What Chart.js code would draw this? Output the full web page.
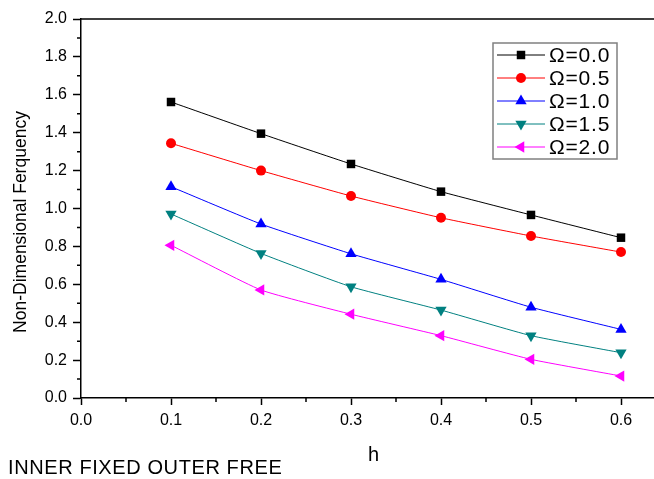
<!DOCTYPE html>
<html>
<head>
<meta charset="utf-8">
<script src="https://cdn.jsdelivr.net/npm/chart.js@4.4.1/dist/chart.umd.min.js"></script>
<style>
  html, body { margin: 0; padding: 0; background: #fff; overflow: hidden; }
  #wrap { position: absolute; left: 0; top: 0; width: 680px; height: 479px; }
</style>
</head>
<body>
<div id="wrap"><canvas id="myChart" width="680" height="479"></canvas></div>
<script>
const hValues = [0.1, 0.2, 0.3, 0.4, 0.5, 0.6];
const omegaLabels = ["Ω=0.0", "Ω=0.5", "Ω=1.0", "Ω=1.5", "Ω=2.0"];
const omega00 = [1.562, 1.395, 1.235, 1.089, 0.966, 0.846];
const omega05 = [1.344, 1.200, 1.066, 0.951, 0.855, 0.770];
const omega10 = [1.115, 0.918, 0.761, 0.626, 0.479, 0.362];
const omega15 = [0.971, 0.763, 0.587, 0.464, 0.329, 0.239];
const omega20 = [0.806, 0.570, 0.442, 0.329, 0.204, 0.116];

const FONT = "'Liberation Sans', Arial, sans-serif";

const toPoints = (ys) => ys.map((y, i) => ({ x: hValues[i], y: y }));

const seriesStyle = [
  { data: omega00, color: "#000000", pointStyle: "rect", radius: 6, rotation: 0 },
  { data: omega05, color: "#ff0000", pointStyle: "circle", radius: 5, rotation: 0 },
  { data: omega10, color: "#0000ff", pointStyle: "triangle", radius: 6.5, rotation: 0 },
  { data: omega15, color: "#008080", pointStyle: "triangle", radius: 6.5, rotation: 180 },
  { data: omega20, color: "#ff00ff", pointStyle: "triangle", radius: 6.5, rotation: 270 },
];

const datasets = seriesStyle.map((s, i) => ({
  label: omegaLabels[i],
  data: toPoints(s.data),
  borderColor: s.color,
  backgroundColor: s.color,
  borderWidth: 1,
  pointStyle: s.pointStyle,
  pointRadius: s.radius,
  pointRotation: s.rotation,
  pointBorderWidth: 0,
  tension: 0.15,
}));

// minor ticks, top frame line, legend box, y title and footer text
const extras = {
  id: "extras",
  afterDraw(chart) {
    const ctx = chart.ctx;
    const area = chart.chartArea;
    const xs = chart.scales.x;
    const ys = chart.scales.y;
    ctx.save();
    ctx.strokeStyle = "#000";
    ctx.lineWidth = 1.5;
    ctx.beginPath();
    ctx.moveTo(area.left, area.top);
    ctx.lineTo(area.right, area.top);
    for (let v = 0.1; v < 2; v += 0.2) {
      const py = ys.getPixelForValue(v);
      ctx.moveTo(area.left - 4, py);
      ctx.lineTo(area.left, py);
    }
    for (let v = 0.05; v < 0.66; v += 0.1) {
      const px = xs.getPixelForValue(v);
      ctx.moveTo(px, area.bottom);
      ctx.lineTo(px, area.bottom + 4);
    }
    ctx.stroke();

    // legend
    ctx.strokeStyle = "#808080";
    ctx.lineWidth = 1.5;
    ctx.strokeRect(493, 43, 124, 116);
    ctx.font = "21px " + FONT;
    ctx.textBaseline = "middle";
    ctx.textAlign = "left";
    chart.data.datasets.forEach((ds, i) => {
      const y = 55 + i * 23;
      ctx.strokeStyle = ds.borderColor;
      ctx.lineWidth = 1;
      ctx.beginPath();
      ctx.moveTo(497, y);
      ctx.lineTo(545, y);
      ctx.stroke();
      ctx.fillStyle = ds.backgroundColor;
      Chart.helpers.drawPoint(ctx, {
        pointStyle: ds.pointStyle,
        radius: ds.pointRadius,
        rotation: ds.pointRotation,
        borderWidth: 0,
      }, 521, y);
      ctx.fillStyle = "#000";
      ctx.letterSpacing = "0.8px";
      ctx.fillText(ds.label, 549, y + 1);
      ctx.letterSpacing = "0px";
    });

    // y title
    ctx.save();
    ctx.translate(21, 222);
    ctx.rotate(-Math.PI / 2);
    ctx.textAlign = "center";
    ctx.font = "17.5px " + FONT;
    ctx.fillText("Non-Dimensional Ferquency", 0, 0);
    ctx.restore();

    ctx.font = "20px " + FONT;
    ctx.textAlign = "left";
    ctx.letterSpacing = "0.6px";
    ctx.fillText("INNER FIXED OUTER FREE", 8, 468);
    ctx.letterSpacing = "0px";
    ctx.restore();
  },
};

new Chart("myChart", {
  type: "line",
  data: { datasets: datasets },
  plugins: [extras],
  options: {
    responsive: false,
    animation: false,
    devicePixelRatio: 1,
    layout: { padding: { left: 0, right: 14, top: 19, bottom: 0 } },
    plugins: {
      legend: { display: false },
      tooltip: { enabled: false },
    },
    scales: {
      x: {
        type: "linear",
        min: 0,
        max: 0.65,
        afterFit: (scale) => { scale.height = 81; },
        ticks: {
          stepSize: 0.1,
          includeBounds: false,
          padding: 6,
          color: "#000",
          font: { size: 16, family: FONT },
          callback: (v) => v.toFixed(1),
        },
        grid: { drawOnChartArea: false, tickLength: 7, tickColor: "#000", tickWidth: 1.5 },
        border: { color: "#000", width: 1.5 },
        title: {
          display: true,
          text: "h",
          color: "#000",
          font: { size: 20, family: FONT },
          padding: { top: 0, bottom: 12 },
        },
      },
      y: {
        min: 0,
        max: 2,
        afterFit: (scale) => { scale.width = 81; },
        ticks: {
          stepSize: 0.2,
          padding: 6,
          color: "#000",
          font: { size: 16, family: FONT },
          callback: (v) => v.toFixed(1),
        },
        grid: { drawOnChartArea: false, tickLength: 8, tickColor: "#000", tickWidth: 1.5 },
        border: { color: "#000", width: 1.5 },
      },
    },
  },
});
</script>
</body>
</html>
